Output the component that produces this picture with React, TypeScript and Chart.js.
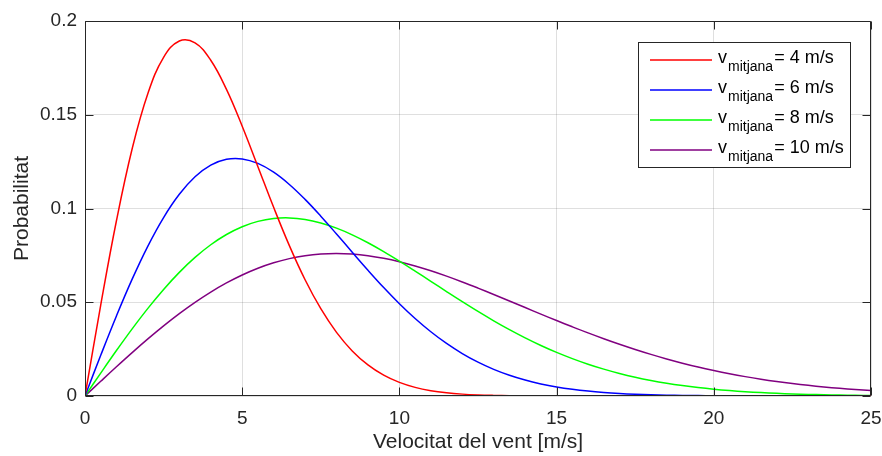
import React, { useEffect, useRef } from 'react';
import { Chart, registerables } from 'chart.js';

Chart.register(...registerables);

// Wind speed samples [m/s]
const windSpeeds = [
  0, 0.5, 1, 1.5, 2, 2.5, 3, 3.5, 4, 4.5, 5, 5.5, 6, 6.5, 7, 7.5, 8, 8.5, 9, 9.5,
  10, 10.5, 11, 11.5, 12, 12.5, 13, 13.5, 14, 14.5, 15, 15.5, 16, 16.5, 17, 17.5,
  18, 18.5, 19, 19.5, 20, 20.5, 21, 21.5, 22, 22.5, 23, 23.5, 24, 24.5, 25,
];

// Probability, one list per mean speed
const probMean4 = [
  0, 0.04849, 0.09347, 0.13186, 0.16134, 0.1806, 0.18934, 0.18833, 0.17905, 0.1635,
  0.14389, 0.12232, 0.10062, 0.08021, 0.06202, 0.04655, 0.03394, 0.02405, 0.01658, 0.01111,
  0.00725, 0.0046, 0.00284, 0.00171, 0.001, 0.00057, 0.00032, 0.00017, 0.00009, 0.00005,
  0.00002, 0.00001, 0.00001, 0, 0, 0, 0, 0, 0, 0, 0, 0, 0, 0, 0, 0, 0, 0, 0, 0, 0,
];
const probMean6 = [
  0, 0.0217, 0.04269, 0.06231, 0.07997, 0.09518, 0.10756, 0.1169, 0.1231, 0.12623,
  0.12645, 0.12404, 0.11936, 0.11283, 0.10487, 0.09592, 0.0864, 0.07668, 0.06708, 0.05786,
  0.04924, 0.04134, 0.03426, 0.02802, 0.02263, 0.01804, 0.0142, 0.01105, 0.00849, 0.00645,
  0.00483, 0.00358, 0.00262, 0.0019, 0.00136, 0.00096, 0.00067, 0.00046, 0.00032, 0.00021,
  0.00014, 0.00009, 0.00006, 0.00004, 0.00002, 0.00002, 0.00001, 0.00001, 0, 0, 0,
];
const probMean8 = [
  0, 0.01223, 0.02424, 0.03581, 0.04674, 0.05683, 0.06593, 0.07391, 0.08067, 0.08614,
  0.0903, 0.09313, 0.09467, 0.09499, 0.09417, 0.0923, 0.08952, 0.08596, 0.08175, 0.07703,
  0.07194, 0.06661, 0.06116, 0.05569, 0.05031, 0.04509, 0.0401, 0.0354, 0.03101, 0.02696,
  0.02327, 0.01995, 0.01697, 0.01434, 0.01203, 0.01002, 0.00829, 0.00681, 0.00556, 0.0045,
  0.00362, 0.0029, 0.0023, 0.00182, 0.00142, 0.00111, 0.00086, 0.00066, 0.0005, 0.00038,
  0.00029,
];
const probMean10 = [
  0, 0.00784, 0.01559, 0.02315, 0.03044, 0.03739, 0.04391, 0.04993, 0.05541, 0.06029,
  0.06454, 0.06813, 0.07104, 0.07327, 0.07483, 0.07574, 0.07602, 0.0757, 0.07483, 0.07345,
  0.07162, 0.06938, 0.0668, 0.06393, 0.06083, 0.05755, 0.05415, 0.05068, 0.04717, 0.04368,
  0.04025, 0.0369, 0.03365, 0.03055, 0.02759, 0.02481, 0.0222, 0.01977, 0.01752, 0.01545,
  0.01358, 0.01187, 0.01033, 0.00895, 0.00772, 0.00663, 0.00567, 0.00482, 0.00409, 0.00345,
  0.0029,
];

const meanSpeedLabels = ['= 4 m/s', '= 6 m/s', '= 8 m/s', '= 10 m/s'];
const seriesColors = ['#ff0000', '#0000ff', '#00ff00', '#800080'];
const xTickLabels = ['0', '5', '10', '15', '20', '25'];
const yTickLabels = ['0', '0.05', '0.1', '0.15', '0.2'];
const xTitle = 'Velocitat del vent [m/s]';
const yTitle = 'Probabilitat';
const legendSymbol = 'v';
const legendSubscript = 'mitjana';

const FONT = '"Liberation Sans", Arial, Helvetica, sans-serif';
const AXIS_COLOR = '#262626';

const framePlugin = {
  id: 'matlabFrame',
  afterDraw(chart: any) {
    const { ctx, chartArea } = chart;
    const { left, right, top, bottom } = chartArea;
    const xs = chart.scales.x;
    const ys = chart.scales.y;
    ctx.save();
    ctx.strokeStyle = AXIS_COLOR;
    ctx.lineWidth = 1;
    const L = Math.round(left) + 0.5;
    const R = Math.round(right) - 0.5;
    const T = Math.round(top) + 0.5;
    const B = Math.round(bottom) - 0.5;
    ctx.beginPath();
    ctx.rect(L, T, R - L, B - T);
    const tickLen = 8;
    xs.ticks.forEach((t: any) => {
      const px = Math.round(xs.getPixelForValue(t.value)) + 0.5;
      ctx.moveTo(px, B);
      ctx.lineTo(px, B - tickLen);
      ctx.moveTo(px, T);
      ctx.lineTo(px, T + tickLen);
    });
    ys.ticks.forEach((t: any) => {
      const py = Math.round(ys.getPixelForValue(t.value)) + 0.5;
      ctx.moveTo(L, py);
      ctx.lineTo(L + tickLen, py);
      ctx.moveTo(R, py);
      ctx.lineTo(R - tickLen, py);
    });
    ctx.stroke();

    // Legend (with subscript)
    const boxRight = Math.round(right) - 20;
    const boxLeft = boxRight - 213;
    const boxTop = Math.round(top) + 21;
    const boxH = 126;
    ctx.fillStyle = '#ffffff';
    ctx.fillRect(boxLeft, boxTop, 213, boxH);
    ctx.strokeStyle = AXIS_COLOR;
    ctx.lineWidth = 1;
    ctx.strokeRect(boxLeft + 0.5, boxTop + 0.5, 212, boxH - 1);
    chart.data.datasets.forEach((ds: any, i: number) => {
      const y = boxTop + 18 + 30 * i;
      ctx.strokeStyle = ds.borderColor;
      ctx.lineWidth = 1.5;
      ctx.beginPath();
      ctx.moveTo(boxLeft + 12, y);
      ctx.lineTo(boxLeft + 74, y);
      ctx.stroke();
      ctx.fillStyle = '#000000';
      ctx.textBaseline = 'alphabetic';
      ctx.textAlign = 'left';
      let x = boxLeft + 80;
      ctx.font = `18px ${FONT}`;
      ctx.fillText(legendSymbol, x, y + 3);
      x += ctx.measureText(legendSymbol).width + 1;
      ctx.font = `14px ${FONT}`;
      ctx.fillText(legendSubscript, x, y + 11);
      x += ctx.measureText(legendSubscript).width + 1;
      ctx.font = `18px ${FONT}`;
      ctx.fillText(meanSpeedLabels[i], x, y + 3);
    });
    ctx.restore();
  },
};

export default function App() {
  const canvasRef = useRef<HTMLCanvasElement | null>(null);

  useEffect(() => {
    const canvas = canvasRef.current;
    if (!canvas) return;
    const series = [probMean4, probMean6, probMean8, probMean10];
    const chart = new Chart(canvas, {
      type: 'line',
      data: {
        datasets: series.map((vals, i) => ({
          label: legendSymbol + legendSubscript + meanSpeedLabels[i],
          data: windSpeeds.map((v, j) => ({ x: v, y: vals[j] })),
          borderColor: seriesColors[i],
          backgroundColor: seriesColors[i],
          borderWidth: 1.5,
          pointRadius: 0,
          tension: 0.4,
          fill: false,
        })),
      },
      options: {
        responsive: false,
        animation: false,
        devicePixelRatio: 1,
        layout: { padding: { top: 21, right: 0, left: 0, bottom: 0 } },
        plugins: { legend: { display: false }, tooltip: { enabled: false } },
        scales: {
          x: {
            type: 'linear',
            min: 0,
            max: 25,
            afterFit: (s: any) => {
              s.height = 60;
              s.paddingRight = 11;
            },
            ticks: {
              stepSize: 5,
              color: AXIS_COLOR,
              font: { family: FONT, size: 19 },
              padding: 11,
              maxRotation: 0,
              callback: (v: any) => xTickLabels[Math.round(Number(v) / 5)] ?? '',
            },
            grid: { color: 'rgba(38,38,38,0.15)', drawTicks: false, lineWidth: 1 },
            border: { display: false },
            title: {
              display: true,
              text: xTitle,
              color: AXIS_COLOR,
              font: { family: FONT, size: 21, lineHeight: 1.2 },
              padding: { top: 0, bottom: 1 },
            },
          },
          y: {
            type: 'linear',
            min: 0,
            max: 0.2,
            afterFit: (s: any) => {
              s.width = 85;
            },
            ticks: {
              stepSize: 0.05,
              color: AXIS_COLOR,
              font: { family: FONT, size: 19 },
              padding: 8,
              callback: (v: any) => yTickLabels[Math.round(Number(v) / 0.05)] ?? '',
            },
            grid: { color: 'rgba(38,38,38,0.15)', drawTicks: false, lineWidth: 1 },
            border: { display: false },
            title: {
              display: true,
              text: yTitle,
              color: AXIS_COLOR,
              font: { family: FONT, size: 21, lineHeight: 1.2 },
              padding: { top: 10, bottom: 0 },
            },
          },
        },
      },
      plugins: [framePlugin],
    });
    return () => chart.destroy();
  }, []);

  return (
    <div style={{ position: 'absolute', left: 0, top: 0, width: 882, height: 456, background: '#fff' }}>
      <canvas ref={canvasRef} width={882} height={456} style={{ display: 'block', width: 882, height: 456 }} />
    </div>
  );
}
